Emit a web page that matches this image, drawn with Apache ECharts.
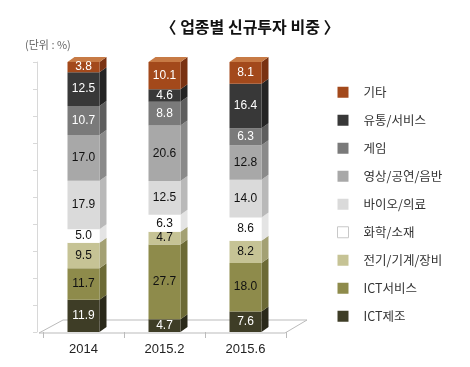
<!DOCTYPE html>
<html>
<head>
<meta charset="utf-8">
<script src="https://cdn.jsdelivr.net/npm/echarts@6/dist/echarts.min.js"></script>
<style>
html,body{margin:0;padding:0;background:#fff;}
#c{width:470px;height:367px;}
</style>
</head>
<body>
<div id="c"></div>
<script>
// ---- data ----
const categories = ['2014', '2015.2', '2015.6'];
const seriesNames = ['ICT제조', 'ICT서비스', '전기/기계/장비', '화학/소재', '바이오/의료', '영상/공연/음반', '게임', '유통/서비스', '기타'];
const ictManufacturing = [11.9, 4.7, 7.6];
const ictService = [11.7, 27.7, 18.0];
const electricMachinery = [9.5, 4.7, 8.2];
const chemicalMaterial = [5.0, 6.3, 8.6];
const bioMedical = [17.9, 12.5, 14.0];
const mediaPerformance = [17.0, 20.6, 12.8];
const game = [10.7, 8.8, 6.3];
const distributionService = [12.5, 4.6, 16.4];
const others = [3.8, 10.1, 8.1];
const legendOrder = ['기타', '유통/서비스', '게임', '영상/공연/음반', '바이오/의료', '화학/소재', '전기/기계/장비', 'ICT서비스', 'ICT제조'];
const titleText = '〈 업종별 신규투자 비중 〉';
const unitText = '(단위 : %)';

// ---- styles ----
const seriesValues = [ictManufacturing, ictService, electricMachinery, chemicalMaterial, bioMedical, mediaPerformance, game, distributionService, others];
const frontColors = ['#3e3d26', '#8e8b4b', '#c6c395', '#ffffff', '#dadada', '#a8a8a8', '#7a7a7a', '#383838', '#a3491b'];
const sideColors  = ['#2a291a', '#6c6a36', '#a3a073', '#e4e4e4', '#b9b9b9', '#8a8a8a', '#5e5e5e', '#242424', '#7a3212'];
const labelColors = ['#fff', '#111', '#111', '#111', '#111', '#111', '#fff', '#fff', '#fff'];
const topColor = ['#c77a45'];
const BAR_W = 32, DX = 7, DY = 5;

const chart = echarts.init(document.getElementById('c'), null, {renderer: 'canvas'});

const barSeries = seriesNames.map((name, j) => ({
  name: name,
  type: 'bar',
  stack: 'total',
  barWidth: BAR_W,
  data: seriesValues[j],
  itemStyle: {color: frontColors[j]},
  label: {
    show: true,
    position: 'inside',
    color: labelColors[j],
    fontFamily: 'Liberation Sans, Arial, sans-serif',
    fontSize: 12,
    formatter: p => p.value.toFixed(1)
  },
  emphasis: {disabled: true},
  z: 3
}));

const sideSeries = {
  name: '_3d',
  type: 'custom',
  data: categories.map((c, i) => [i]),
  encode: {x: 0},
  z: 2,
  silent: true,
  renderItem: function (params, api) {
    const i = api.value(0);
    const cx = api.coord([i, 0])[0];
    const x0 = cx - BAR_W / 2, x1 = cx + BAR_W / 2;
    const children = [];
    let cum = 0;
    for (let j = 0; j < seriesValues.length; j++) {
      const v = seriesValues[j][i];
      const yb = api.coord([i, cum])[1];
      const yt = api.coord([i, cum + v])[1];
      children.push({
        type: 'polygon',
        shape: {points: [[x1, yb], [x1 + DX, yb - DY], [x1 + DX, yt - DY], [x1, yt]]},
        style: {fill: sideColors[j]}
      });
      cum += v;
      if (j === seriesValues.length - 1) {
        children.push({
          type: 'polygon',
          shape: {points: [[x0, yt], [x1, yt], [x1 + DX, yt - DY], [x0 + DX, yt - DY]]},
          style: {fill: topColor[0]}
        });
      }
    }
    return {type: 'group', children: children};
  }
};

const option = {
  backgroundColor: '#fff',
  animation: false,
  title: [{
    text: titleText,
    left: 245, textAlign: 'center', top: 14,
    textStyle: {fontFamily: 'Noto Sans CJK KR', fontSize: 16, fontWeight: 'bold', color: '#111'}
  }, {
    text: unitText,
    left: 20, top: 34,
    textStyle: {fontFamily: 'Noto Sans CJK KR', fontSize: 11, fontWeight: 'normal', color: '#666'}
  }],
  legend: {
    orient: 'vertical',
    left: 332, top: 81,
    data: legendOrder.map(n => n === '화학/소재'
      ? {name: n, itemStyle: {borderColor: '#c8c8c8', borderWidth: 1}}
      : {name: n}),
    icon: 'rect',
    itemWidth: 11, itemHeight: 11,
    itemGap: 15.5,
    selectedMode: false,
    textStyle: {fontFamily: 'Noto Sans CJK KR', fontSize: 12.5, color: '#333', padding: [0, 0, 0, 10]}
  },
  grid: {left: 43, width: 243, top: 62, bottom: 35},
  xAxis: {
    type: 'category',
    data: categories,
    axisLine: {show: false},
    axisTick: {show: true, length: 6, lineStyle: {color: '#bbb'}},
    axisLabel: {margin: 11, fontFamily: 'Liberation Sans, Arial, sans-serif', fontSize: 13, color: '#222'}
  },
  yAxis: {
    type: 'value',
    min: 0, max: 100, interval: 10,
    offset: 6,
    axisLine: {show: true, lineStyle: {color: '#d8d8d8'}},
    axisTick: {show: true, length: 4, lineStyle: {color: '#d8d8d8'}},
    axisLabel: {show: false},
    splitLine: {show: false}
  },
  graphic: [{
    type: 'polygon',
    z: 0,
    silent: true,
    shape: {points: [[39, 333], [63, 320], [307, 320], [285, 333]]},
    style: {fill: '#fff', stroke: '#bbb', lineWidth: 1}
  }],
  series: barSeries.concat([sideSeries])
};
chart.setOption(option);
</script>
</body>
</html>
